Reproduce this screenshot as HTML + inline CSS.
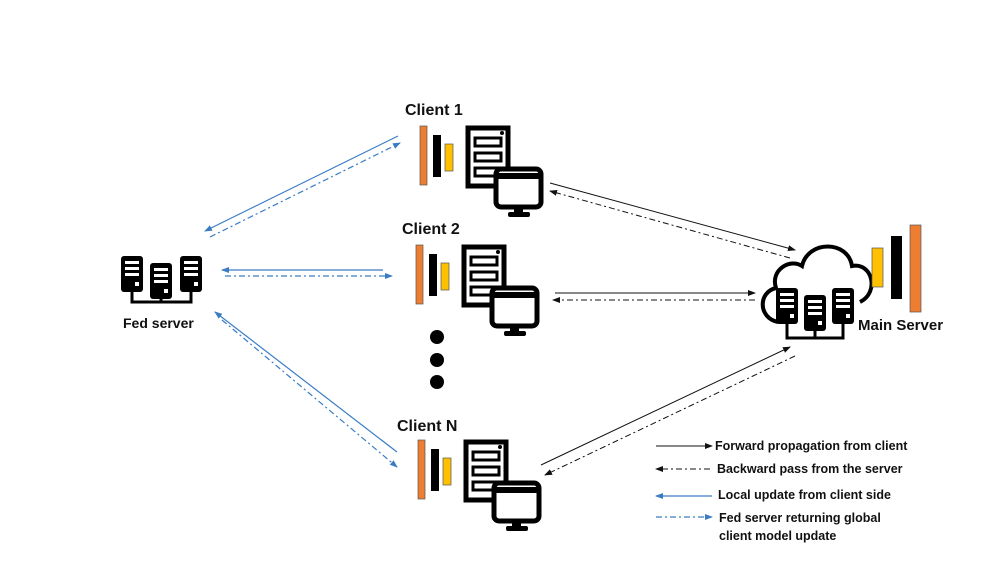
<!DOCTYPE html>
<html><head><meta charset="utf-8"><style>
body{margin:0;background:#fff}
svg{display:block}
text{font-family:"Liberation Sans",sans-serif;font-weight:bold;fill:#111}
</style></head><body>
<svg width="997" height="561" viewBox="0 0 997 561" xmlns="http://www.w3.org/2000/svg">
<defs>
<marker id="ab" markerWidth="8" markerHeight="8" refX="7" refY="4" orient="auto" markerUnits="userSpaceOnUse"><path d="M0,1 L8,4 L0,7 Z" fill="#111"/></marker>
<marker id="au" markerWidth="8" markerHeight="8" refX="7" refY="4" orient="auto" markerUnits="userSpaceOnUse"><path d="M0,1 L8,4 L0,7 Z" fill="#3a7cc4"/></marker>
<g id="client">
<rect x="0" y="0" width="7" height="59" fill="#ed7d31" stroke="#555" stroke-width="0.7"/>
<rect x="13" y="9" width="8" height="42" fill="#000"/>
<rect x="25" y="18" width="8" height="27" fill="#ffc000" stroke="#555" stroke-width="0.7"/>
<rect x="48" y="2" width="40" height="58" fill="#fff" stroke="#000" stroke-width="5"/>
<rect x="55" y="12" width="26" height="8" fill="#fff" stroke="#000" stroke-width="3"/>
<rect x="55" y="27" width="26" height="8" fill="#fff" stroke="#000" stroke-width="3"/>
<rect x="55" y="42" width="26" height="8" fill="#fff" stroke="#000" stroke-width="3"/>
<circle cx="82" cy="7" r="2" fill="#000"/>
<rect x="76" y="43" width="45" height="38" rx="5" fill="#fff" stroke="#000" stroke-width="5"/>
<rect x="78" y="47" width="41" height="6" fill="#000"/>
<rect x="94" y="81" width="9" height="6" fill="#000"/>
<rect x="88" y="86" width="22" height="5" rx="2" fill="#000"/>
</g>
<g id="rack">
<rect x="0" y="0" width="22" height="36" rx="3" fill="#000"/>
<rect x="4" y="5" width="14" height="3" fill="#fff"/>
<rect x="4" y="11" width="14" height="3" fill="#fff"/>
<rect x="4" y="17" width="14" height="3" fill="#fff"/>
<rect x="14" y="26" width="4" height="4" fill="#fff"/>
</g>
</defs>

<use href="#client" x="420" y="126"/>
<text x="405" y="115" font-size="16">Client 1</text>
<use href="#client" x="416" y="245"/>
<text x="402" y="234" font-size="16">Client 2</text>
<use href="#client" x="418" y="440"/>
<text x="397" y="431" font-size="16">Client N</text>

<circle cx="437" cy="337" r="7" fill="#000"/>
<circle cx="437" cy="360" r="7" fill="#000"/>
<circle cx="437" cy="382" r="7" fill="#000"/>

<use href="#rack" x="121" y="256"/>
<use href="#rack" x="150" y="263"/>
<use href="#rack" x="180" y="256"/>
<path d="M132,292 V302 H191 V292 M161,299 V302" fill="none" stroke="#000" stroke-width="3"/>
<text x="123" y="328" font-size="14">Fed server</text>

<path d="M778,322 C758,318 758,292 776,288 C770,270 790,258 802,266 C808,240 848,240 852,266 C872,262 880,292 860,302" fill="none" stroke="#000" stroke-width="4"/>
<use href="#rack" x="776" y="288"/>
<use href="#rack" x="804" y="295"/>
<use href="#rack" x="832" y="288"/>
<path d="M787,324 V338 H843 V324 M815,331 V338" fill="none" stroke="#000" stroke-width="3"/>
<rect x="872" y="248" width="11" height="39" fill="#ffc000" stroke="#555" stroke-width="0.7"/>
<rect x="891" y="236" width="11" height="63" fill="#000"/>
<rect x="910" y="225" width="11" height="87" fill="#ed7d31" stroke="#555" stroke-width="0.7"/>
<text x="858" y="330" font-size="15">Main Server</text>

<g stroke="#3a7cc4" stroke-width="1.2" fill="none">
<line x1="398" y1="136" x2="205" y2="231" marker-end="url(#au)"/>
<line x1="210" y1="237" x2="400" y2="143" stroke-dasharray="6,3,2,3" marker-end="url(#au)"/>
<line x1="383" y1="270" x2="222" y2="270" marker-end="url(#au)"/>
<line x1="225" y1="276" x2="392" y2="276" stroke-dasharray="6,3,2,3" marker-end="url(#au)"/>
<line x1="397" y1="452" x2="215" y2="312" marker-end="url(#au)"/>
<line x1="222" y1="320" x2="397" y2="467" stroke-dasharray="6,3,2,3" marker-end="url(#au)"/>
</g>
<g stroke="#111" stroke-width="1" fill="none">
<line x1="550" y1="183" x2="795" y2="250" marker-end="url(#ab)"/>
<line x1="790" y1="258" x2="550" y2="191" stroke-dasharray="6,3,2,3" marker-end="url(#ab)"/>
<line x1="555" y1="293" x2="755" y2="293" marker-end="url(#ab)"/>
<line x1="755" y1="300" x2="553" y2="300" stroke-dasharray="6,3,2,3" marker-end="url(#ab)"/>
<line x1="541" y1="465" x2="790" y2="347" marker-end="url(#ab)"/>
<line x1="795" y1="356" x2="545" y2="475" stroke-dasharray="6,3,2,3" marker-end="url(#ab)"/>
</g>

<line x1="656" y1="446" x2="712" y2="446" stroke="#111" stroke-width="1" marker-end="url(#ab)"/>
<line x1="710" y1="469" x2="656" y2="469" stroke="#111" stroke-width="1" stroke-dasharray="6,3,2,3" marker-end="url(#ab)"/>
<line x1="712" y1="496" x2="656" y2="496" stroke="#3a7cc4" stroke-width="1.2" marker-end="url(#au)"/>
<line x1="656" y1="517" x2="712" y2="517" stroke="#3a7cc4" stroke-width="1.2" stroke-dasharray="6,3,2,3" marker-end="url(#au)"/>
<g font-size="12.5">
<text x="715" y="450">Forward propagation from client</text>
<text x="717" y="473">Backward pass from the server</text>
<text x="718" y="499">Local update from client side</text>
<text x="719" y="522">Fed server returning global</text>
<text x="719" y="540">client model update</text>
</g>
</svg>
</body></html>
